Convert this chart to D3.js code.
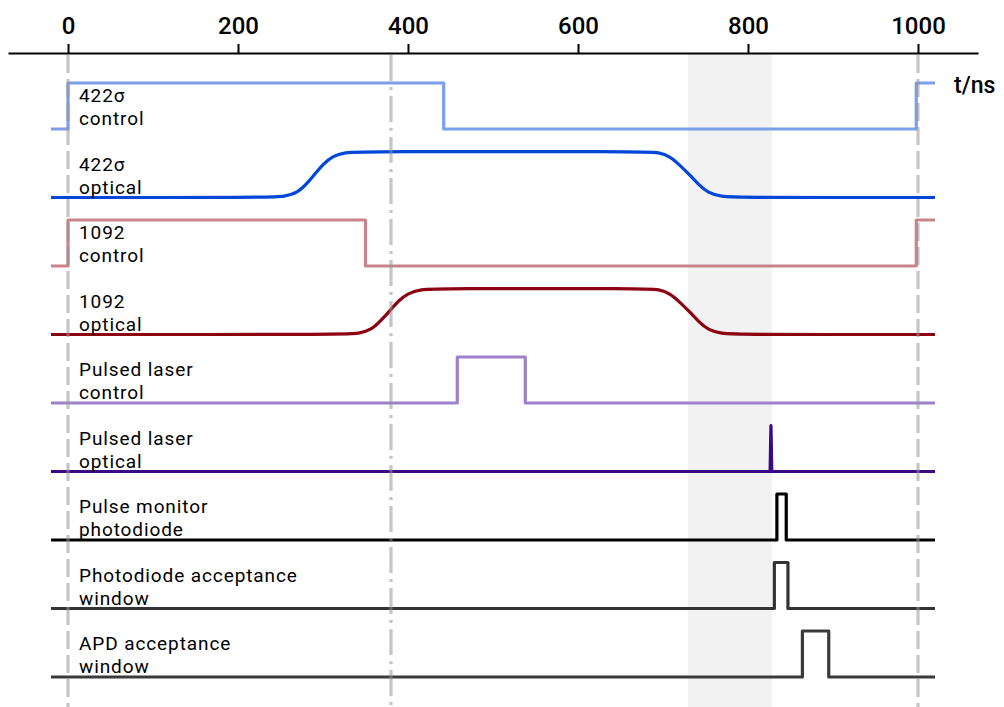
<!DOCTYPE html>
<html>
<head>
<meta charset="utf-8">
<script src="https://cdn.jsdelivr.net/npm/d3@7"></script>
<style>
html,body{margin:0;padding:0;background:#fff;}
svg{display:block;font-family:Roboto,"DejaVu Sans",sans-serif;}
</style>
</head>
<body>
<svg id="chart" width="1004" height="707"></svg>
<script>
// ---- data ----
const tickValues = [0, 200, 400, 600, 800, 1000];
const axisUnit = "t/ns";
const rowNames = ["422σ|control", "422σ|optical", "1092|control", "1092|optical",
  "Pulsed laser|control", "Pulsed laser|optical", "Pulse monitor|photodiode",
  "Photodiode acceptance|window", "APD acceptance|window"];
const rowColors = ["#7b9fe8", "#0046d8", "#c9838a", "#8c0012", "#9c82c8", "#3b0883", "#000000", "#333333", "#3a3a3a"];
const rowKinds = ["step", "smooth", "step", "smooth", "step", "linear", "step", "step", "step"];
// [time ns, level 0/1]
const ctrl422 = [[-20,0],[0,1],[442,0],[998,1],[1020,1]];
const opt422 = [[-20,0],[235,0],[255,0.02],[270,0.1],[281,0.3],[290,0.5],[300,0.72],[311,0.9],[326,0.98],[345,1],[680,1],[695,0.98],[708,0.9],[720,0.7],[731,0.5],[742,0.28],[753,0.1],[768,0.02],[790,0],[1020,0]];
const ctrl1092 = [[-20,0],[0,1],[350,0],[998,1],[1020,1]];
const opt1092 = [[-20,0],[325,0],[342,0.02],[357,0.1],[368,0.3],[378,0.5],[388,0.72],[400,0.9],[415,0.98],[435,1],[680,1],[695,0.98],[708,0.9],[720,0.7],[731,0.5],[742,0.28],[753,0.1],[768,0.02],[790,0],[1020,0]];
const ctrlPulse = [[-20,0],[458,1],[538,0],[1020,0]];
const optPulse = [[-20,0],[826,0],[827,1],[828,0],[1020,0]];
const monitorPD = [[-20,0],[834,1],[845,0],[1020,0]];
const windowPD = [[-20,0],[831,1],[847,0],[1020,0]];
const windowAPD = [[-20,0],[864,1],[895,0],[1020,0]];
const rowData = [ctrl422, opt422, ctrl1092, opt1092, ctrlPulse, optPulse, monitorPD, windowPD, windowAPD];
const markerTimes = [0, 380, 1000];
const markerStyles = ["dash", "dashdot", "dash"];
const band = [729.5, 828];

// ---- layout ----
const svg = d3.select("#chart");
const W = 1004, H = 707;
const x = d3.scaleLinear().domain([-70.6, 1070.6]).range([8, 978]);
const axisY = 53;
const rowBase = d3.scalePoint().domain(rowNames).range([129, 677]);
const rowHeight = 46;

// band
svg.append("rect")
  .attr("x", x(band[0])).attr("y", axisY)
  .attr("width", x(band[1]) - x(band[0])).attr("height", H - axisY)
  .attr("fill", "#f2f2f2");

// axis
const axis = d3.axisTop(x).tickValues(tickValues).tickSize(9).tickSizeOuter(0).tickPadding(10).tickFormat(d3.format("d"));
const ag = svg.append("g").attr("transform", `translate(0,${axisY})`).call(axis);
ag.select(".domain").attr("stroke", "#000").attr("stroke-width", 2);
ag.selectAll(".tick line").attr("stroke", "#000").attr("stroke-width", 2);
ag.selectAll(".tick text").attr("fill", "#000").attr("font-size", 24).attr("font-weight", 500)
  .attr("font-family", "Roboto, sans-serif");

svg.append("text").attr("x", 954).attr("y", 93).attr("font-size", 23).attr("font-weight", 500).attr("fill", "#000").text(axisUnit);

// traces
rowNames.forEach((name, i) => {
  const base = rowBase(name);
  const y = d3.scaleLinear().domain([0, 1]).range([base, base - rowHeight]);
  const curve = rowKinds[i] === "step" ? d3.curveStepAfter : rowKinds[i] === "smooth" ? d3.curveBasis : d3.curveLinear;
  const line = d3.line().x(d => x(d[0])).y(d => y(d[1])).curve(curve);
  svg.append("path").datum(rowData[i])
    .attr("d", line)
    .attr("fill", "none")
    .attr("stroke", rowColors[i])
    .attr("stroke-width", 3.2)
    .attr("stroke-linejoin", "round")
    .attr("stroke-linecap", "butt");
  const parts = name.split("|");
  const t = svg.append("text").attr("x", 79).attr("font-size", 19).attr("font-weight", 400)
    .attr("letter-spacing", 0.9).attr("fill", "#000");
  t.append("tspan").attr("x", 79).attr("y", base - 27).text(parts[0]);
  t.append("tspan").attr("x", 79).attr("y", base - 4).text(parts[1]);
});

// marker lines
markerTimes.forEach((m, i) => {
  svg.append("line")
    .attr("x1", x(m)).attr("x2", x(m))
    .attr("y1", axisY + 2).attr("y2", H)
    .attr("stroke", "rgba(150,150,150,0.55)")
    .attr("stroke-width", 3.2)
    .attr("stroke-dasharray", markerStyles[i] === "dash" ? "18,6" : "26,6,3,6");
});
</script>
</body>
</html>
